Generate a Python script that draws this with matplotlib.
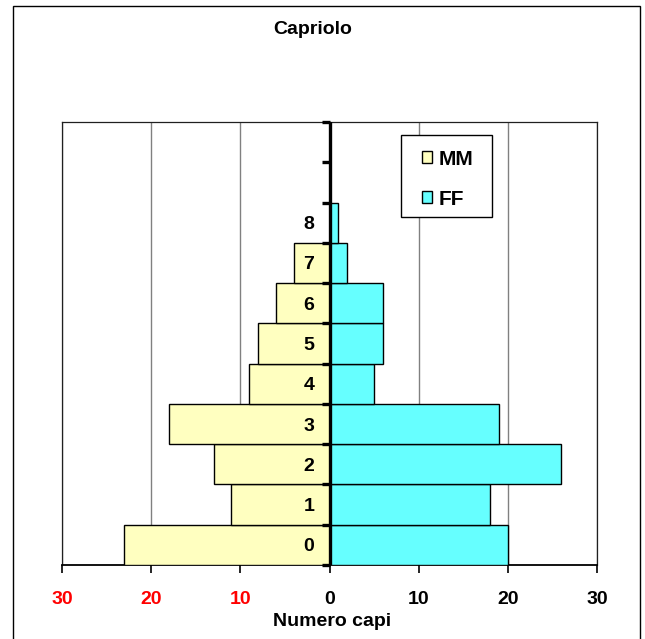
import matplotlib
matplotlib.use("Agg")
import matplotlib.pyplot as plt
from matplotlib.patches import Rectangle
import numpy as np

categories = ['0', '1', '2', '3', '4', '5', '6', '7', '8', '', '']
mm_values = [23, 11, 13, 18, 9, 8, 6, 4, 0, 0, 0]
ff_values = [20, 18, 26, 19, 5, 6, 6, 2, 1, 0, 0]
x_ticks = [-30, -20, -10, 0, 10, 20, 30]
title = 'Capriolo'
xlabel = 'Numero capi'

plt.rcParams['font.family'] = ['Liberation Sans', 'DejaVu Sans']
plt.rcParams['font.weight'] = 'bold'
FS = 14

fig = plt.figure(figsize=(6.45, 6.39), dpi=100)
fig.patch.set_facecolor('white')

W, H = 645, 639
L, R, T, B = 62, 597, 122, 565
ax = fig.add_axes([L / W, 1 - B / H, (R - L) / W, (B - T) / H])

y = np.arange(len(categories))
mm_neg = [-v for v in mm_values]
ax.barh(y, mm_neg, height=1.0, color='#FFFFC0', edgecolor='black', linewidth=1.0, zorder=3, label='MM')
ax.barh(y, ff_values, height=1.0, color='#66FFFF', edgecolor='black', linewidth=1.0, zorder=3, label='FF')

ax.set_xlim(-30, 30)
ax.set_ylim(-0.5, len(categories) - 0.5)
ax.set_xticks(x_ticks)
ax.set_xticklabels([str(abs(v)) for v in x_ticks], fontsize=FS, fontweight='bold')
ax.tick_params(axis='x', direction='out', length=6, width=1.2, pad=13, colors='black')
for lbl, v in zip(ax.get_xticklabels(), x_ticks):
    lbl.set_color('red' if v < 0 else 'black')
ax.set_yticks([])
ax.xaxis.grid(True, color='#808080', linewidth=1.0, zorder=0)
ax.set_axisbelow(True)
for s in ['left', 'top', 'right']:
    ax.spines[s].set_color('#202020')
    ax.spines[s].set_linewidth(0.9)
ax.spines['bottom'].set_linewidth(1.3)

ax.axvline(0, color='black', linewidth=2.4, zorder=5)

sec = ax.secondary_yaxis(0.5)
sec.set_zorder(10)
sec.spines['left'].set_linewidth(2.4)
bounds = np.arange(len(categories) + 1) - 0.5
sec.set_yticks(bounds)
sec.set_yticklabels([''] * len(bounds))
sec.set_yticks(y, labels=categories, minor=True)
sec.yaxis.set_ticks_position('left')
sec.yaxis.set_label_position('left')
sec.tick_params(axis='y', which='both', left=True, right=False, labelleft=True, labelright=False)
sec.tick_params(axis='y', which='major', direction='out', length=6, width=2.4)
sec.tick_params(axis='y', which='minor', length=0, pad=11, labelsize=FS)
for lbl in sec.get_yticklabels(minor=True):
    lbl.set_fontweight('bold')

# legend
box = Rectangle((0.634, 0.7856), 0.17, 0.185, transform=ax.transAxes,
                facecolor='white', edgecolor='black', linewidth=1.0, zorder=6)
ax.add_patch(box)
leg = ax.legend(loc='center left', bbox_to_anchor=(0.673, 0.871), frameon=False,
                borderpad=0, borderaxespad=0, handlelength=0.5, handleheight=0.5,
                handletextpad=0.3, labelspacing=1.0,
                prop={'weight': 'bold', 'size': FS + 1})
leg.set_zorder(7)

fig.text(332 / W, 1 - 622 / H, xlabel, ha='center', va='center', fontsize=FS, fontweight='bold')
fig.text(313 / W, 1 - 30 / H, title, ha='center', va='center', fontsize=FS, fontweight='bold')

frame = Rectangle((13 / W, -0.05), (640 - 13) / W, 1.05 - 6 / H, transform=fig.transFigure,
                  facecolor='none', edgecolor='black', linewidth=1.0)
fig.patches.append(frame)

fig.savefig('out.png', dpi=100, facecolor='white')
